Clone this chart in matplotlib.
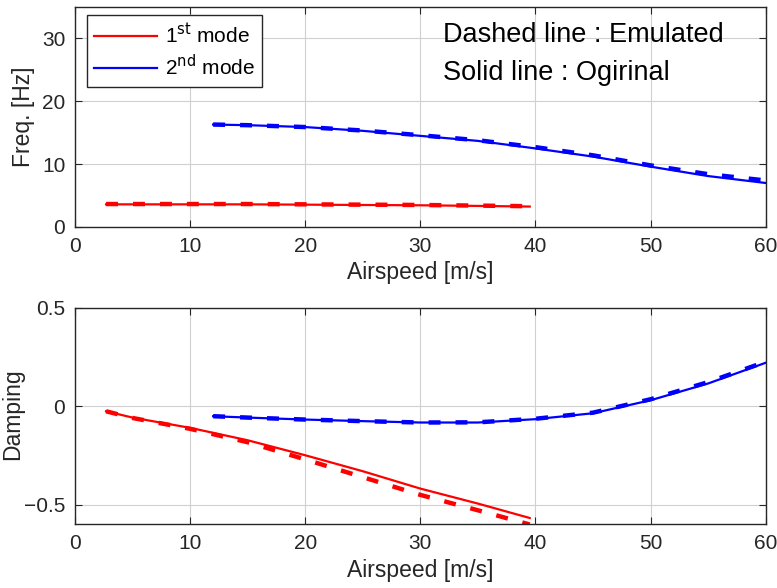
import matplotlib
matplotlib.use("Agg")
import matplotlib.pyplot as plt

plt.rcParams['font.family'] = ['Liberation Sans', 'DejaVu Sans']
plt.rcParams['lines.scale_dashes'] = False

# ---- data ----
x1 = [2.7, 5, 10, 15, 20, 25, 30, 35, 39.5]
freq1_orig = [3.6, 3.6, 3.6, 3.6, 3.55, 3.5, 3.45, 3.35, 3.25]
freq1_emu = [3.65, 3.65, 3.65, 3.65, 3.6, 3.55, 3.5, 3.4, 3.3]
damp1_orig = [-0.026, -0.058, -0.11, -0.173, -0.249, -0.33, -0.418, -0.494, -0.567]
damp1_emu = [-0.026, -0.06, -0.115, -0.183, -0.27, -0.36, -0.45, -0.528, -0.60]

x2 = [12, 15, 20, 25, 30, 35, 40, 45, 50, 55, 60]
freq2_orig = [16.3, 16.2, 15.9, 15.3, 14.5, 13.7, 12.5, 11.2, 9.6, 8.1, 7.0]
freq2_emu = [16.3, 16.2, 15.9, 15.35, 14.6, 13.8, 12.7, 11.4, 9.8, 8.4, 7.4]
damp2_orig = [-0.051, -0.058, -0.068, -0.076, -0.083, -0.083, -0.066, -0.036, 0.03, 0.115, 0.22]
damp2_emu = [-0.051, -0.058, -0.068, -0.076, -0.083, -0.082, -0.064, -0.033, 0.035, 0.122, 0.225]

xticks = [0, 10, 20, 30, 40, 50, 60]
freq_ticks = [0, 10, 20, 30]
damp_ticks = [-0.5, 0, 0.5]
damp_ticklabels = ['\u22120.5', '0', '0.5']
legend_labels = ['1$^{\\mathrm{st}}$ mode', '2$^{\\mathrm{nd}}$ mode']

dark = '#262626'
fig = plt.figure(figsize=(7.77, 5.88), dpi=100)
ax1 = fig.add_axes([0.0965, 0.614, 0.889, 0.374])
ax2 = fig.add_axes([0.0965, 0.108, 0.889, 0.369])

dash = (8.6, 10.8)
l1, = ax1.plot(x1, freq1_orig, color='#ff0000', lw=1.6)
ax1.plot(x1, freq1_emu, color='#ff0000', lw=3.2, dashes=dash)
l2, = ax1.plot(x2, freq2_orig, color='#0000ff', lw=1.6)
ax1.plot(x2, freq2_emu, color='#0000ff', lw=3.2, dashes=dash)

ax2.plot(x1, damp1_orig, color='#ff0000', lw=1.6)
ax2.plot(x1, damp1_emu, color='#ff0000', lw=3.2, dashes=dash)
ax2.plot(x2, damp2_orig, color='#0000ff', lw=1.6)
ax2.plot(x2, damp2_emu, color='#0000ff', lw=3.2, dashes=dash)

for ax in (ax1, ax2):
    ax.set_xlim(0, 60)
    ax.set_xticks(xticks)
    ax.grid(True, color='#d0d0d0', lw=0.8)
    ax.set_axisbelow(True)
    ax.tick_params(direction='in', top=True, right=True, labelsize=15,
                   colors=dark, length=5, width=0.8, pad=7)
    for s in ax.spines.values():
        s.set_color(dark)
        s.set_linewidth(1.0)
    ax.set_xlabel('Airspeed [m/s]', fontsize=16.5, color=dark, labelpad=4)

ax1.set_ylim(0, 35)
ax1.set_yticks(freq_ticks)
ax1.set_ylabel('Freq. [Hz]', fontsize=16.5, color=dark)
ax1.yaxis.set_label_coords(-0.058, 0.5)

ax2.set_ylim(-0.6, 0.5)
ax2.set_yticks(damp_ticks)
ax2.set_yticklabels(damp_ticklabels)
ax2.set_ylabel('Damping', fontsize=16.5, color=dark)
ax2.yaxis.set_label_coords(-0.074, 0.508)

leg = ax1.legend([l1, l2], legend_labels, loc='upper left',
                 bbox_to_anchor=(0.017, 0.964), borderaxespad=0,
                 fontsize=15, handlelength=3.0, handletextpad=0.4,
                 fancybox=False, framealpha=1, edgecolor=dark,
                 borderpad=0.35, labelspacing=0.35)
leg.get_frame().set_linewidth(1.0)
for t in leg.get_texts():
    t.set_color('#000000')

ax1.text(0.533, 0.873, 'Dashed line : Emulated', transform=ax1.transAxes,
         fontsize=19.5, va='center', ha='left', color='#000000')
ax1.text(0.533, 0.70, 'Solid line : Ogirinal', transform=ax1.transAxes,
         fontsize=19.5, va='center', ha='left', color='#000000')

fig.savefig('out.png', dpi=100)
